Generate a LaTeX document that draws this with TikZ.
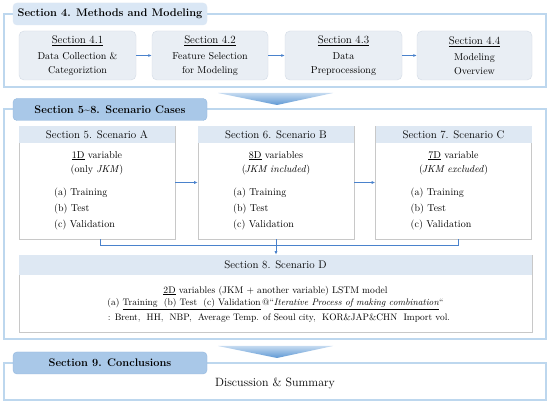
\documentclass[tikz,border=0pt]{standalone}
\usepackage{graphicx}
\usetikzlibrary{arrows.meta,calc}
\definecolor{frameblue}{HTML}{BDD7EE}
\definecolor{tablight}{HTML}{DAE7F5}
\definecolor{tabdark}{HTML}{A9C8E8}
\definecolor{tabedge}{HTML}{92B7DF}
\definecolor{boxfill}{HTML}{E9EEF4}
\definecolor{boxedge}{HTML}{D3DBE5}
\definecolor{scenedge}{HTML}{C8C8C8}
\definecolor{headfill}{HTML}{DEE8F3}
\definecolor{linkblue}{HTML}{4A82CC}
\definecolor{chevtop}{HTML}{C4DAF0}
\definecolor{chevbot}{HTML}{5E98D4}
\tikzset{
  frame/.style={draw=frameblue,line width=1.4pt},
  tab/.style={rounded corners=4pt,minimum width=194pt,minimum height=22pt,
    font=\fontsize{11}{13}\selectfont\bfseries,inner sep=0pt},
  subbox/.style={draw=boxedge,fill=boxfill,rounded corners=5pt,minimum height=49pt,
    align=center,inner sep=0pt},
  scen/.style={draw=scenedge,line width=0.6pt,fill=white,inner sep=0pt},
  link/.style={linkblue,line width=0.7pt},
  chev/.style={top color=chevtop,bottom color=chevbot}
}
\begin{document}
\begin{tikzpicture}[x=1pt,y=-1pt,font=\fontsize{10}{12}\selectfont]
  \useasboundingbox[fill=white] (0,0) rectangle (550,406);
  \draw[frame] (4,14) rectangle (546,87);
  \node[tab,fill=tablight,draw=tablight] (t4) at (110,14) {Section 4. Methods and Modeling};
  \foreach \i/\x/\w/\la/\lb in {1/77.5/117/Data Collection \&/Categoriztion,
      2/210/116/Feature Selection/for Modeling,
      3/343.5/117/Data/Preprocessiong,
      4/474.5/115/Modeling/Overview} {
    \node[subbox,minimum width=\w pt] (m\i) at (\x,55.5)
      {{\fontsize{11}{13}\selectfont\underline{Section 4.\i}}\\[4pt]\la\\[2pt]\lb};
  }
  \foreach \a/\b in {1/2, 2/3, 3/4} {
    \draw[link,-{Latex[length=3.5pt,width=3pt]}] (m\a) -- (m\b);
  }
  \shade[chev] (218,93) -- (333,93) -- (277,105) -- cycle;
  \draw[frame] (4,109) rectangle (546,339);
  \node[tab,fill=tabdark,draw=tabedge] (t5) at (110,109.5) {Section 5\textasciitilde 8. Scenario Cases};
  \foreach \n/\cx/\s/\v/\p in {A/97/5/\underline{1D} variable/(only \textit{JKM}),
      B/276/6/\underline{8D} variables/(\kern-1pt\textit{JKM included}),
      C/453.5/7/\underline{7D} variable/(\kern-1pt\textit{JKM excluded})} {
    \node[scen,minimum width=156pt,minimum height=113pt] (s\n) at (\cx,182.5) {};
    \fill[headfill] ($(s\n.north west)+(0.3,0.3)$) rectangle ($(s\n.north east)+(-0.3,17)$);
    \node[font=\fontsize{11}{13}\selectfont] (s\n-head) at ($(s\n.north)+(0,9)$) {Section \s. Scenario \n};
    \node (s\n-var) at ($(s\n.north)+(0,30)$) {\v};
    \node (s\n-inc) at ($(s\n.north)+(0,44)$) {\p};
    \node[anchor=west] (s\n-a) at ($(s\n.north west)+(32,67)$) {(a) Training};
    \node[anchor=west] (s\n-b) at ($(s\n.north west)+(32,83)$) {(b) Test};
    \node[anchor=west] (s\n-c) at ($(s\n.north west)+(32,99)$) {(c) Validation};
  }
  \draw[link,-{Latex[length=3.5pt,width=3pt]}] (sA) -- (sB);
  \draw[link,-{Latex[length=3.5pt,width=3pt]}] (sB) -- (sC);
  \node[scen,minimum width=513pt,minimum height=77pt] (sD) at (275.5,293.5) {};
  \fill[headfill] ($(sD.north west)+(0.3,0.3)$) rectangle ($(sD.north east)+(-0.3,20)$);
  \node[font=\fontsize{11}{13}\selectfont] (sD-head) at ($(sD.north)+(0,10)$) {Section 8. Scenario D};
  \node (sD-var) at ($(sD.north)+(0,36)$) {\resizebox{224pt}{!}{\underline{2D} variables (JKM + another variable) LSTM model}};
  \node (sD-run) at ($(sD.north)+(0,49.5)$) {\resizebox{336pt}{!}{(a) \underline{Training\ \ (b) Test\ \ (c) Validation}\,@``\underline{\textit{Iterative Process of making combination}}``}};
  \node (sD-list) at ($(sD.north)+(3.5,63)$) {\resizebox{342pt}{!}{: Brent,\ \ HH,\ \ NBP,\ \ Average Temp. of Seoul city,\ \ KOR\&JAP\&CHN\ \ Import vol.}};
  \coordinate (merge) at (276,245.5);
  \draw[link] (sA.south -| 100,0) |- (merge);
  \draw[link] (sC.south -| 458,0) |- (merge);
  \draw[link,-{Latex[length=3.5pt,width=3pt]}] (sB.south) -- (sD.north -| sB.south);
  \shade[chev] (218,346) -- (333,346) -- (277,358) -- cycle;
  \draw[frame] (4,363) rectangle (546,400);
  \node[tab,fill=tabdark,draw=tabedge] (t9) at (110,363) {Section 9. Conclusions};
  \node[font=\fontsize{12}{14}\selectfont] (sum) at (275,383) {Discussion \& Summary};
\end{tikzpicture}
\end{document}
